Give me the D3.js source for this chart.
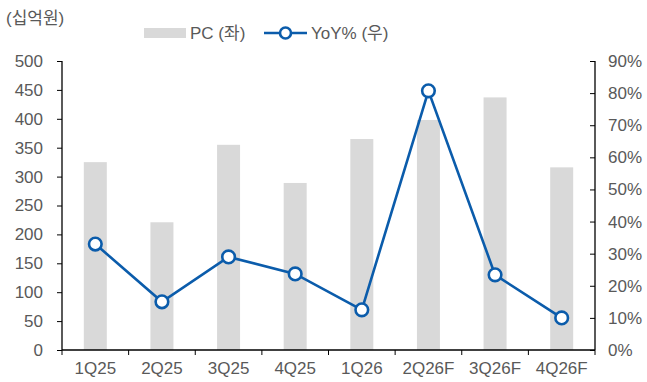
<!DOCTYPE html>
<html>
<head>
<meta charset="utf-8">
<script src="https://cdn.jsdelivr.net/npm/d3@7"></script>
<style>
  body { margin: 0; background: #fff; }
  text { font-family: "Liberation Sans", Arial, "Noto Sans CJK KR", sans-serif; }
</style>
</head>
<body>
<svg id="chart" width="647" height="382"></svg>
<script>
const categories = ["1Q25", "2Q25", "3Q25", "4Q25", "1Q26", "2Q26F", "3Q26F", "4Q26F"];
const pcValues = [325, 221, 355, 289, 365, 398, 437, 316];
const yoyValues = [33.0, 15.0, 29.0, 23.7, 12.5, 80.7, 23.4, 10.0];
const leftTicks = [0, 50, 100, 150, 200, 250, 300, 350, 400, 450, 500];
const rightTicks = [0, 10, 20, 30, 40, 50, 60, 70, 80, 90];

const svg = d3.select("#chart");
const plotLeft = 62, plotRight = 595, plotTop = 61, plotBottom = 350;
const textColor = "#595959";
const lineColor = "#0b5cab";

const x = d3.scaleBand().domain(categories).range([plotLeft, plotRight]);
const yL = d3.scaleLinear().domain([0, 500]).range([plotBottom, plotTop]);
const yR = d3.scaleLinear().domain([0, 90]).range([plotBottom, plotTop]);

// bars
const barW = 23;
svg.append("g").selectAll("rect").data(categories).join("rect")
  .attr("x", d => x(d) + x.bandwidth() / 2 - barW / 2)
  .attr("y", (d, i) => yL(pcValues[i]))
  .attr("width", barW)
  .attr("height", (d, i) => plotBottom - yL(pcValues[i]))
  .attr("fill", "#d9d9d9");

// left axis
const gL = svg.append("g").attr("transform", `translate(${plotLeft},0)`)
  .call(d3.axisLeft(yL).tickValues(leftTicks).tickSize(5).tickPadding(14));
// right axis
const gR = svg.append("g").attr("transform", `translate(${plotRight},0)`)
  .call(d3.axisRight(yR).tickValues(rightTicks).tickFormat(d => d + "%").tickSize(-5).tickPadding(13));
// x axis, with tick marks on the category boundaries
const gX = svg.append("g").attr("transform", `translate(0,${plotBottom})`)
  .call(d3.axisBottom(x).tickSize(0).tickPadding(12));
const bounds = categories.map(c => x(c)).concat([plotRight]);
gX.selectAll("line.bound").data(bounds).join("line")
  .attr("class", "bound")
  .attr("x1", d => d).attr("x2", d => d)
  .attr("y1", 0).attr("y2", 5)
  .attr("stroke", "#000");

[gL, gR, gX].forEach(g => {
  g.selectAll(".domain").attr("stroke", "#000").attr("stroke-width", 1.3);
  g.selectAll(".tick line").attr("stroke", "#000");
  g.selectAll("text").attr("fill", textColor).attr("font-size", 17)
    .style("font-family", '"Liberation Sans", Arial, sans-serif');
});
gL.select(".domain").attr("d", `M0,${plotTop}V${plotBottom}`);
gR.select(".domain").attr("d", `M0,${plotTop}V${plotBottom}`);
gX.select(".domain").attr("d", `M${plotLeft},0H${plotRight}`);

// YoY line
const line = d3.line()
  .x((d, i) => x(categories[i]) + x.bandwidth() / 2)
  .y(d => yR(d));
svg.append("path").datum(yoyValues)
  .attr("d", line).attr("fill", "none")
  .attr("stroke", lineColor).attr("stroke-width", 2.6);
svg.append("g").selectAll("circle").data(yoyValues).join("circle")
  .attr("cx", (d, i) => x(categories[i]) + x.bandwidth() / 2)
  .attr("cy", d => yR(d))
  .attr("r", 6.3)
  .attr("fill", "#fff")
  .attr("stroke", lineColor).attr("stroke-width", 2.6);

// unit label
svg.append("text").attr("x", 6).attr("y", 24)
  .attr("fill", textColor).attr("font-size", 17)
  .text("(십억원)");

// legend
const lg = svg.append("g");
lg.append("rect").attr("x", 144).attr("y", 28).attr("width", 42).attr("height", 10).attr("fill", "#d9d9d9");
lg.append("text").attr("x", 190).attr("y", 38.5).attr("fill", textColor).attr("font-size", 17).text("PC (좌)");
lg.append("line").attr("x1", 264).attr("x2", 307).attr("y1", 33).attr("y2", 33)
  .attr("stroke", lineColor).attr("stroke-width", 2.6);
lg.append("circle").attr("cx", 285.5).attr("cy", 33).attr("r", 5.5)
  .attr("fill", "#fff").attr("stroke", lineColor).attr("stroke-width", 2.6);
lg.append("text").attr("x", 311).attr("y", 38.5).attr("fill", textColor).attr("font-size", 17).text("YoY% (우)");
</script>
</body>
</html>
